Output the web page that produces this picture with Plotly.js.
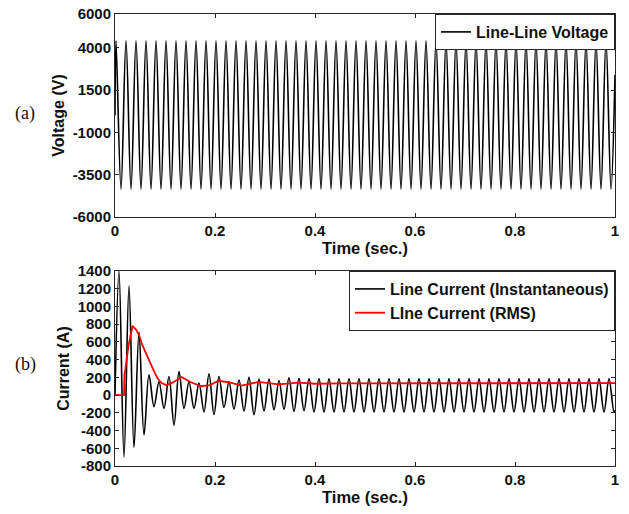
<!DOCTYPE html>
<html>
<head>
<meta charset="utf-8">
<script src="https://cdn.plot.ly/plotly-3.0.1.min.js"></script>
<style>
  html, body { margin: 0; padding: 0; background: #ffffff; }
  #chart { width: 629px; height: 514px; }
</style>
</head>
<body>
<div id="chart"></div>
<script>
// ---------------- DATA ----------------
// Panel (a): line-line voltage, successive half-cycle extrema (V)
const voltageStartValue = 0;
const voltageFirstExtremumTime = 0.002;   // s
const voltageHalfPeriod = 0.01;           // s (50 Hz)
const voltageExtrema = [
  4420, -4360, 4420, -4360, 4420, -4360, 4420, -4360, 4420, -4360,
  4420, -4360, 4420, -4360, 4420, -4360, 4420, -4360, 4420, -4360,
  4420, -4360, 4420, -4360, 4420, -4360, 4420, -4360, 4420, -4360,
  4420, -4360, 4420, -4360, 4420, -4360, 4420, -4360, 4420, -4360,
  4420, -4360, 4420, -4360, 4420, -4360, 4420, -4360, 4420, -4360,
  4420, -4360, 4420, -4360, 4420, -4360, 4420, -4360, 4420, -4360,
  4420, -4360, 4420, -4360, 4420, -4360, 4420, -4360, 4420, -4360,
  4420, -4360, 4420, -4360, 4420, -4360, 4420, -4360, 4420, -4360,
  4420, -4360, 4420, -4360, 4420, -4360, 4420, -4360, 4420, -4360,
  4420, -4360, 4420, -4360, 4420, -4360, 4420, -4360, 4420, -4360
];
const voltageEndValue = 2400;

// Panel (b): instantaneous line current, successive half-cycle extrema (A)
const currentStartValue = 0;
const currentFirstExtremumTime = 0.008;   // s
const currentHalfPeriod = 0.01;           // s
const currentExtrema = [
  1400, -700, 1230, -590, 710, -450, 230, -130, 150, -150,
  210, -340, 265, -150, 150, -150, 135, -190, 240, -220,
  210, -140, 150, -160, 170, -180, 200, -220, 180, -180,
  180, -165, 165, -160, 195, -185, 190, -175, 185, -190,
  185, -190, 185, -190, 185, -190, 185, -190, 185, -190,
  185, -190, 185, -190, 185, -190, 185, -190, 185, -190,
  185, -190, 185, -190, 185, -190, 185, -190, 185, -190,
  185, -190, 185, -190, 185, -190, 185, -190, 185, -190,
  185, -190, 185, -190, 185, -190, 185, -190, 185, -190,
  185, -190, 185, -190, 185, -190, 185, -190, 185, -190
];
const currentEndValue = -175;

// Panel (b): RMS line current
const rmsTimes = [0, 0.018, 0.019, 0.020, 0.027, 0.035, 0.042, 0.048, 0.055, 0.063,
                  0.070, 0.078, 0.085, 0.093, 0.103, 0.115, 0.133, 0.150, 0.172, 0.190,
                  0.207, 0.227, 0.253, 0.287, 0.327, 0.367, 0.400, 0.450, 0.500, 0.600,
                  0.700, 0.800, 0.900, 1.000];
const rmsValues = [0, 0, 240, 260, 555, 780, 740, 680, 560, 450,
                   370, 270, 190, 135, 112, 140, 205, 150, 100, 112,
                   162, 145, 108, 148, 120, 140, 128, 133, 133, 134,
                   134, 134, 134, 134];

// Tick labels
const voltageTicks = [-6000, -3500, -1000, 1500, 4000, 6000];
const currentTicks = [-800, -600, -400, -200, 0, 200, 400, 600, 800, 1000, 1200, 1400];
const timeTicks = [0, 0.2, 0.4, 0.6, 0.8, 1];
const timeTickText = ['0', '0.2', '0.4', '0.6', '0.8', '1'];

// ---------------- BUILD SERIES ----------------
function buildSeries(startVal, firstT, halfP, extrema, endVal) {
  const t = [0], v = [startVal];
  extrema.forEach((e, k) => { t.push(firstT + k * halfP); v.push(e); });
  t.push(1); v.push(endVal);
  return {t, v};
}
const volt = buildSeries(voltageStartValue, voltageFirstExtremumTime, voltageHalfPeriod, voltageExtrema, voltageEndValue);
const curr = buildSeries(currentStartValue, currentFirstExtremumTime, currentHalfPeriod, currentExtrema, currentEndValue);

const FONT = 'Liberation Sans, Arial, Helvetica, sans-serif';
const AX = '#262626';

const traces = [
  { x: volt.t, y: volt.v, type: 'scatter', mode: 'lines', name: 'Line-Line Voltage',
    line: {color: '#000000', width: 1.6, shape: 'spline', smoothing: 1},
    xaxis: 'x', yaxis: 'y', legend: 'legend' },
  { x: curr.t, y: curr.v, type: 'scatter', mode: 'lines', name: 'Line Current (Instantaneous)',
    line: {color: '#000000', width: 1.6, shape: 'spline', smoothing: 1},
    xaxis: 'x2', yaxis: 'y2', legend: 'legend2' },
  { x: rmsTimes, y: rmsValues, type: 'scatter', mode: 'lines', name: 'LIne Current (RMS)',
    line: {color: '#ff0000', width: 1.8},
    xaxis: 'x2', yaxis: 'y2', legend: 'legend2' }
];

function xAxis(anchor) {
  return {
    anchor: anchor, domain: [0, 1], range: [0, 1],
    tickvals: timeTicks, ticktext: timeTickText,
    ticks: 'inside', ticklen: 4, tickcolor: AX, tickwidth: 1,
    showline: true, linecolor: AX, linewidth: 1, mirror: 'ticks',
    showgrid: false, zeroline: false,
    tickfont: {family: FONT, size: 15, color: '#111', weight: 'bold'},
    title: {text: 'Time (sec.)', font: {family: FONT, size: 16.5, color: '#111', weight: 'bold'}, standoff: 2}
  };
}
function yAxis(anchor, domain, range, ticks, title) {
  return {
    anchor: anchor, domain: domain, range: range,
    tickvals: ticks, ticktext: ticks.map(v => String(v)),
    ticks: 'inside', ticklen: 4, tickcolor: AX, tickwidth: 1,
    showline: true, linecolor: AX, linewidth: 1, mirror: 'ticks',
    showgrid: false, zeroline: false,
    tickfont: {family: FONT, size: 15, color: '#111', weight: 'bold'},
    title: {text: title, font: {family: FONT, size: 16, color: '#111', weight: 'bold'}, standoff: 4}
  };
}

const legendCommon = {
  xref: 'paper', yref: 'paper', x: 1, xanchor: 'right', yanchor: 'top',
  bgcolor: '#ffffff', bordercolor: AX, borderwidth: 1,
  font: {family: FONT, size: 16, color: '#111', weight: 'bold'},
  tracegroupgap: 0, itemwidth: 30
};

const layout = {
  width: 629, height: 514,
  margin: {l: 115, r: 14, t: 14, b: 48},
  paper_bgcolor: '#ffffff', plot_bgcolor: '#ffffff',
  showlegend: true,
  xaxis: xAxis('y'),
  yaxis: yAxis('x', [0.551, 1], [-6000, 6000], voltageTicks, 'Voltage (V)'),
  xaxis2: xAxis('y2'),
  yaxis2: yAxis('x2', [0, 0.4314], [-800, 1400], currentTicks, 'Current (A)'),
  legend: Object.assign({}, legendCommon, {y: 1}),
  legend2: Object.assign({}, legendCommon, {y: 0.4314}),
  annotations: [
    {text: '(a)', xref: 'paper', yref: 'paper', x: -0.18, y: 0.779, xanchor: 'center', yanchor: 'middle',
     showarrow: false, font: {family: 'Liberation Serif, Times New Roman, serif', size: 18, color: '#111'}},
    {text: '(b)', xref: 'paper', yref: 'paper', x: -0.18, y: 0.2235, xanchor: 'center', yanchor: 'middle',
     showarrow: false, font: {family: 'Liberation Serif, Times New Roman, serif', size: 18, color: '#111'}}
  ]
};

Plotly.newPlot('chart', traces, layout, {displayModeBar: false, staticPlot: true});
</script>
</body>
</html>
